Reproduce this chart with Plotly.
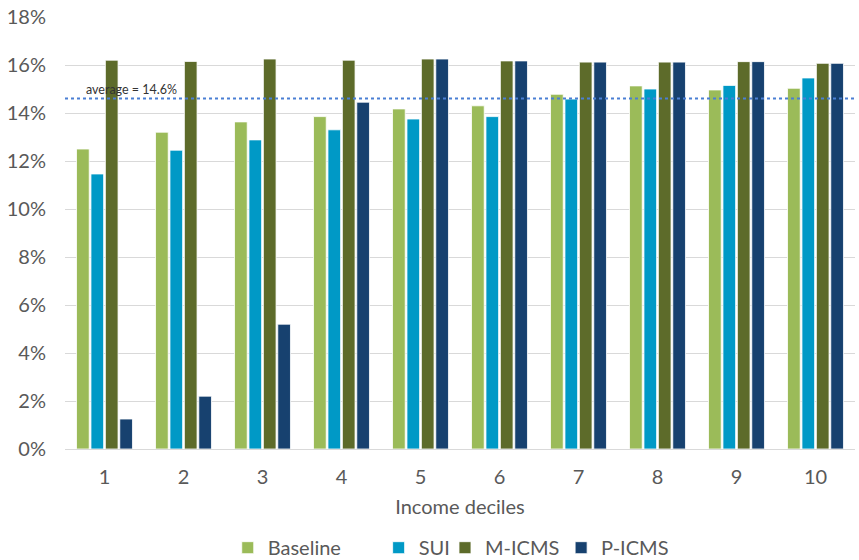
import plotly.graph_objects as go

# Income deciles and tax burden (%) per scenario
deciles = ["1", "2", "3", "4", "5", "6", "7", "8", "9", "10"]
baseline = [12.5, 13.2, 13.63, 13.85, 14.17, 14.3, 14.78, 15.13, 14.96, 15.03]
sui = [11.46, 12.45, 12.88, 13.3, 13.75, 13.85, 14.58, 15.0, 15.15, 15.46]
m_icms = [16.2, 16.15, 16.25, 16.2, 16.25, 16.17, 16.12, 16.12, 16.14, 16.07]
p_icms = [1.25, 2.2, 5.2, 14.45, 16.25, 16.17, 16.12, 16.12, 16.14, 16.07]
average = 14.6

series = [
    ("Baseline", baseline, "#9BBB59", "legend"),
    ("SUI", sui, "#0099C6", "legend2"),
    ("M-ICMS", m_icms, "#5D6B2A", "legend3"),
    ("P-ICMS", p_icms, "#17416F", "legend4"),
]

font_family = "Lato, 'Open Sans', sans-serif"
grey = "#595959"

fig = go.Figure()
for name, vals, color, leg in series:
    fig.add_trace(go.Bar(
        x=deciles, y=vals, name=name, legend=leg, showlegend=True,
        marker=dict(color=color, line=dict(color="rgba(255,255,255,0.8)", width=1)),
    ))

fig.add_shape(type="line", xref="paper", yref="y", x0=0, x1=1,
              y0=average, y1=average,
              line=dict(color="#4A7FD4", width=2, dash="dot"))
fig.add_annotation(xref="paper", yref="y", x=0.024, y=average,
                   text=f"average = {average}%", showarrow=False,
                   xanchor="left", yanchor="bottom", yshift=0,
                   font=dict(size=12.5, color="#333333", family=font_family))

legend_style = dict(orientation="h", xanchor="left", yanchor="middle",
                    yref="container", xref="paper", y=0.022,
                    font=dict(size=20, color=grey, family=font_family),
                    bgcolor="rgba(0,0,0,0)", itemwidth=30,
                    tracegroupgap=0)
positions = [0.206, 0.397, 0.481, 0.628]
fig.update_layout(
    showlegend=True,
    legend=dict(legend_style, x=positions[0]),
    legend2=dict(legend_style, x=positions[1]),
    legend3=dict(legend_style, x=positions[2]),
    legend4=dict(legend_style, x=positions[3]),
)

fig.update_layout(
    width=859, height=560,
    margin=dict(l=65, r=4, t=17, b=111, autoexpand=False),
    paper_bgcolor="white", plot_bgcolor="white",
    barmode="group", bargap=0.27, bargroupgap=0.12,
    font=dict(family=font_family, color=grey, size=20),
    xaxis=dict(type="category", automargin=False,
               title=dict(text="Income deciles", font=dict(size=20), standoff=12),
               tickfont=dict(size=20), ticklabelstandoff=14,
               showgrid=False, ticks="", showline=False),
    yaxis=dict(range=[0, 18], dtick=2, ticksuffix="%", tickfont=dict(size=20),
               automargin=False, ticklabelstandoff=18,
               showgrid=True, gridcolor="#D9D9D9", gridwidth=1,
               zeroline=True, zerolinecolor="#D9D9D9", zerolinewidth=1,
               ticks="", showline=False),
)

fig.write_html("out.html")
